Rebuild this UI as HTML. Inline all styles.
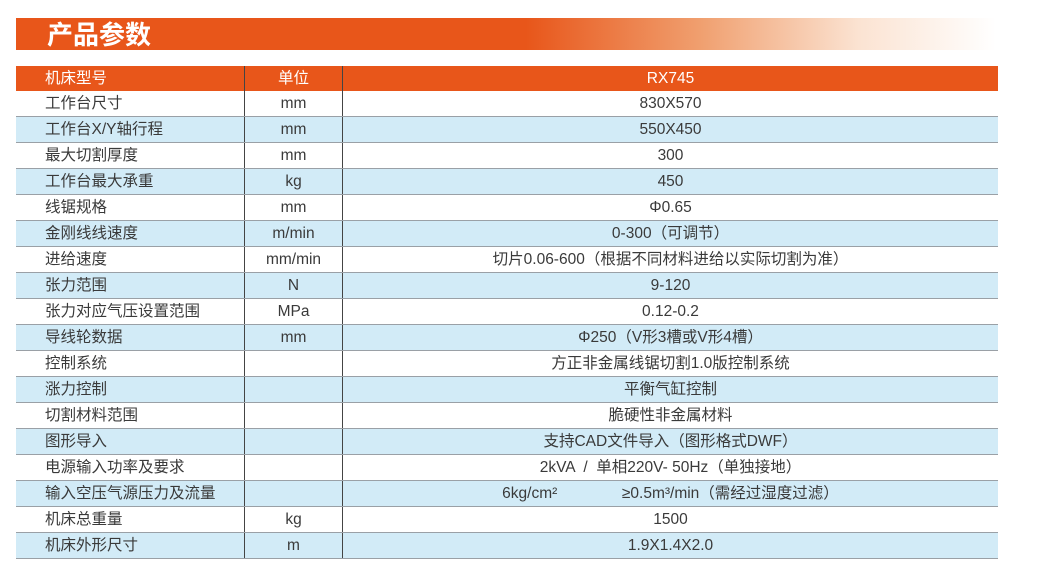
<!DOCTYPE html>
<html><head><meta charset="utf-8"><style>
body{margin:0;width:1039px;height:571px;background:#fff;overflow:hidden;font-family:"Liberation Sans","Noto Sans CJK SC",sans-serif;}
.title{position:absolute;left:16px;top:18px;width:980px;height:32px;background:linear-gradient(90deg,#e8561a 0%,#e8561a 52%,#f0a070 70%,#fbe3d2 86%,#fff 100%);}
.title span{position:absolute;left:31px;top:0;line-height:34px;font-size:26px;font-weight:bold;color:#fff;}
table{position:absolute;left:16px;top:66px;width:982px;border-collapse:collapse;font-size:15.5px;color:#3a3a3a;}
td{height:25px;padding:0;border-bottom:1px solid #9aa0a6;text-align:center;line-height:25px;}
td:first-child{text-align:left;padding-left:29px;width:199px;border-right:1px solid #444;}
td:nth-child(2){width:97px;border-right:1px solid #444;}
tr.h td{background:#e8561a;color:#fff;border-bottom:none;}
tr:nth-child(odd):not(.h) td{background:#d2ebf7;}
</style></head><body>
<div class="title"><span>产品参数</span></div>
<table>
<tr class="h"><td>机床型号</td><td>单位</td><td>RX745</td></tr>
<tr><td>工作台尺寸</td><td>mm</td><td>830X570</td></tr>
<tr><td>工作台X/Y轴行程</td><td>mm</td><td>550X450</td></tr>
<tr><td>最大切割厚度</td><td>mm</td><td>300</td></tr>
<tr><td>工作台最大承重</td><td>kg</td><td>450</td></tr>
<tr><td>线锯规格</td><td>mm</td><td>Φ0.65</td></tr>
<tr><td>金刚线线速度</td><td>m/min</td><td>0-300（可调节）</td></tr>
<tr><td>进给速度</td><td>mm/min</td><td>切片0.06-600（根据不同材料进给以实际切割为准）</td></tr>
<tr><td>张力范围</td><td>N</td><td>9-120</td></tr>
<tr><td>张力对应气压设置范围</td><td>MPa</td><td>0.12-0.2</td></tr>
<tr><td>导线轮数据</td><td>mm</td><td>Φ250（V形3槽或V形4槽）</td></tr>
<tr><td>控制系统</td><td></td><td>方正非金属线锯切割1.0版控制系统</td></tr>
<tr><td>涨力控制</td><td></td><td>平衡气缸控制</td></tr>
<tr><td>切割材料范围</td><td></td><td>脆硬性非金属材料</td></tr>
<tr><td>图形导入</td><td></td><td>支持CAD文件导入（图形格式DWF）</td></tr>
<tr><td>电源输入功率及要求</td><td></td><td>2kVA &nbsp;/ &nbsp;单相220V- 50Hz（单独接地）</td></tr>
<tr><td>输入空压气源压力及流量</td><td></td><td>6kg/cm² &nbsp;&nbsp;&nbsp;&nbsp;&nbsp;&nbsp;&nbsp;&nbsp;&nbsp;&nbsp;&nbsp;&nbsp;&nbsp;&nbsp;≥0.5m³/min（需经过湿度过滤）</td></tr>
<tr><td>机床总重量</td><td>kg</td><td>1500</td></tr>
<tr><td>机床外形尺寸</td><td>m</td><td>1.9X1.4X2.0</td></tr>
</table>
</body></html>
